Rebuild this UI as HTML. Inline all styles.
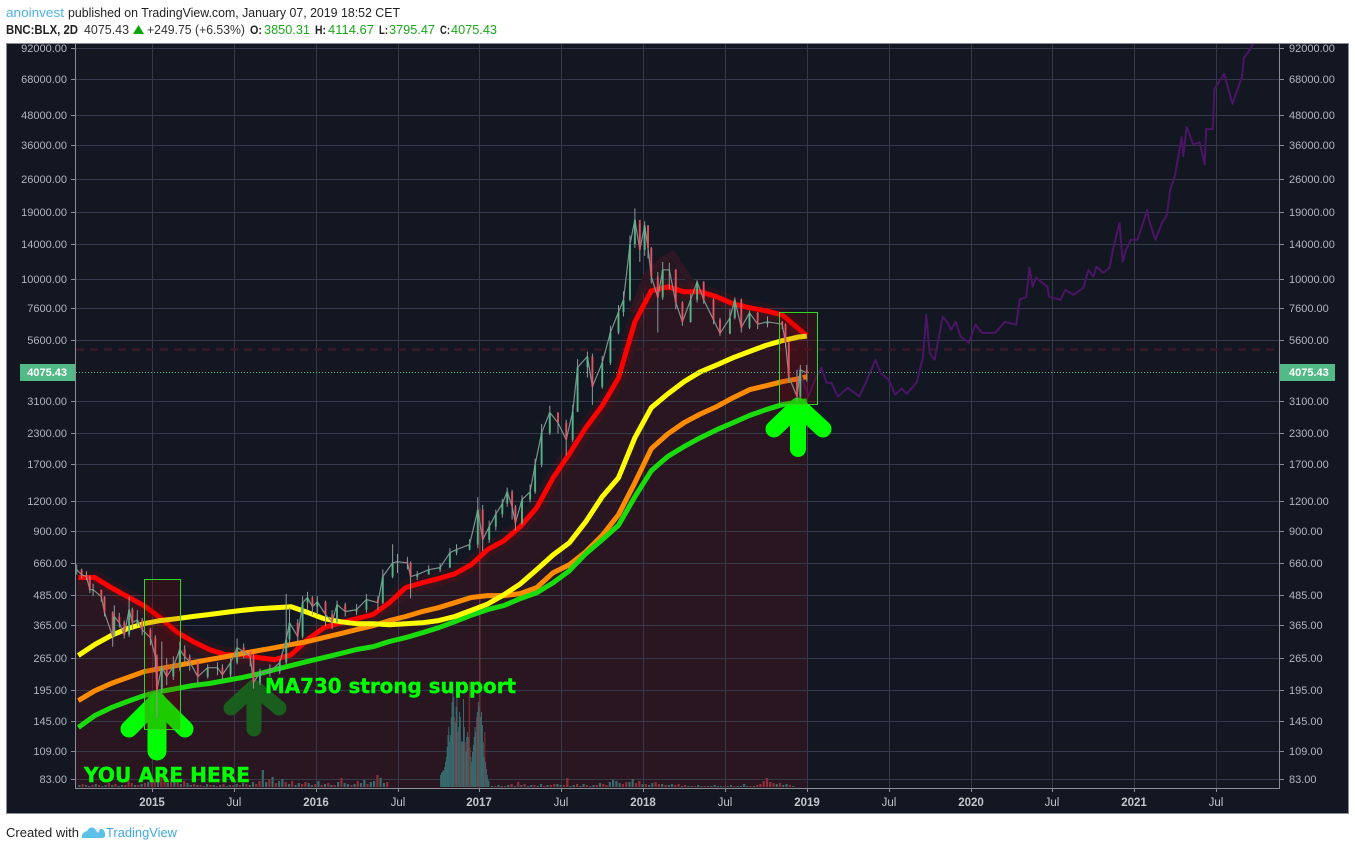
<!DOCTYPE html>
<html lang="en">
<head>
<meta charset="utf-8">
<title>BNC:BLX 2D chart</title>
<style>
html,body{margin:0;padding:0;background:#fff;width:1355px;height:850px;overflow:hidden}
svg{display:block;font-family:"Liberation Sans",Arial,sans-serif}
</style>
</head>
<body>
<svg id="chart" xmlns="http://www.w3.org/2000/svg" width="1355" height="850" viewBox="0 0 1355 850">
  <defs>
    <clipPath id="plot-clip"><rect x="76" y="44" width="1203" height="744"/></clipPath>
  </defs>
  <rect x="0" y="0" width="1355" height="850" fill="#ffffff"/>
  <rect x="6.5" y="43.5" width="1342" height="770" fill="#131722" stroke="#8a8d93" stroke-width="1"/>

  <g font-size="12.5">
    <text x="6" y="17" fill="#4cb1e6" textLength="58" lengthAdjust="spacingAndGlyphs">anoinvest</text>
    <text x="68" y="17" fill="#222" textLength="332" lengthAdjust="spacingAndGlyphs">published on TradingView.com, January 07, 2019 18:52 CET</text>
  </g>
  <g font-size="12.5">
    <text x="6" y="34" font-weight="bold" fill="#222" textLength="72" lengthAdjust="spacingAndGlyphs">BNC:BLX, 2D</text>
    <text x="84" y="34" fill="#333" textLength="45" lengthAdjust="spacingAndGlyphs">4075.43</text>
    <polygon points="133,34 144,34 138.5,25" fill="#0aa60a"/>
    <text x="147" y="34" fill="#333" textLength="98" lengthAdjust="spacingAndGlyphs">+249.75 (+6.53%)</text>
    <text x="250" y="34" font-weight="bold" fill="#222" font-size="12" textLength="12" lengthAdjust="spacingAndGlyphs">O:</text>
    <text x="264" y="34" fill="#1aa81a" textLength="46" lengthAdjust="spacingAndGlyphs">3850.31</text>
    <text x="315" y="34" font-weight="bold" fill="#222" font-size="12" textLength="11" lengthAdjust="spacingAndGlyphs">H:</text>
    <text x="328" y="34" fill="#1aa81a" textLength="46" lengthAdjust="spacingAndGlyphs">4114.67</text>
    <text x="379" y="34" font-weight="bold" fill="#222" font-size="12" textLength="9" lengthAdjust="spacingAndGlyphs">L:</text>
    <text x="389" y="34" fill="#1aa81a" textLength="46" lengthAdjust="spacingAndGlyphs">3795.47</text>
    <text x="440" y="34" font-weight="bold" fill="#222" font-size="12" textLength="10" lengthAdjust="spacingAndGlyphs">C:</text>
    <text x="451" y="34" fill="#1aa81a" textLength="46" lengthAdjust="spacingAndGlyphs">4075.43</text>
  </g>

  <g id="plot" clip-path="url(#plot-clip)">
    <g id="layer-fill"></g>
    <g id="layer-grid"></g>
    <g id="layer-volume"></g>
    <line x1="76" x2="1279" y1="349.5" y2="349.5" stroke="#3a1a26" stroke-width="2.5" stroke-dasharray="8 6"/>
    <g id="layer-ma"></g>
    <line x1="76" x2="1279" y1="372.5" y2="372.5" stroke="#53b987" stroke-width="1" stroke-dasharray="1 2"/>
    <g id="layer-forecast"></g>
    <g fill="none" stroke-linecap="round" stroke-linejoin="round">
      <g stroke="#00ff00">
        <path d="M129 729 L157 701 L185 729" stroke-width="17"/>
        <path d="M157 702 L157 751" stroke-width="19"/>
      </g>
      <g stroke="#1a5e1e">
        <path d="M231 708 L254 687 L279 708" stroke-width="15"/>
        <path d="M254 690 L254 729" stroke-width="15"/>
      </g>
      <g stroke="#00ff00">
        <path d="M774 429 L798 406 L823 429" stroke-width="17"/>
        <path d="M798 408 L798 449" stroke-width="16"/>
      </g>
    </g>
    <rect x="144.5" y="579.5" width="36" height="150" fill="rgba(139,0,0,0.2)" stroke="#2fd81f" stroke-width="1"/>
    <rect x="779.5" y="312.5" width="38" height="92" fill="rgba(139,0,0,0.2)" stroke="#2fd81f" stroke-width="1"/>
    <g id="layer-candles"></g>
  </g>

  <text x="84" y="782" fill="#00ff00" stroke="#00ff00" stroke-width="0.4" font-family="'DejaVu Sans',sans-serif" font-weight="bold" font-size="20" textLength="166" lengthAdjust="spacingAndGlyphs">YOU ARE HERE</text>
  <text x="265" y="693" fill="#00ff00" stroke="#00ff00" stroke-width="0.4" font-family="'DejaVu Sans',sans-serif" font-weight="bold" font-size="20" textLength="251" lengthAdjust="spacingAndGlyphs">MA730 strong support</text>

  <g id="layer-axes"></g>

  <line x1="75.5" x2="75.5" y1="44" y2="788" stroke="#8a8d93"/>
  <line x1="1279.5" x2="1279.5" y1="44" y2="788" stroke="#8a8d93"/>
  <line x1="75" x2="1280" y1="788.5" y2="788.5" stroke="#8a8d93"/>

  <rect x="20" y="364" width="55" height="17" fill="#53b987"/>
  <text x="67" y="376" text-anchor="end" fill="#ffffff" font-size="11" font-weight="bold">4075.43</text>
  <rect x="1280" y="364" width="55" height="17" fill="#53b987"/>
  <text x="1289" y="376" fill="#ffffff" font-size="11" font-weight="bold">4075.43</text>

  <text x="6" y="837" fill="#222" font-size="13">Created with</text>
  <path d="M82 838 Q81 833 87 831 Q91 825 95 829 L98 833 L100 829 Q104 828 105 833 Q106 838 102 838 Z" fill="#5cc0e8"/>
  <text x="106" y="837" fill="#3fa9dd" font-size="13" textLength="71" lengthAdjust="spacingAndGlyphs">TradingView</text>

  <script>
  // ---------- axis configuration ----------
  const priceTicks = [92000,68000,48000,36000,26000,19000,14000,10000,7600,5600,3100,2300,1700,1200,900,660,485,365,265,195,145,109,83];
  const timeTickYears = [2015,2015.5,2016,2016.5,2017,2017.5,2018,2018.5,2019,2019.5,2020,2020.5,2021,2021.5];
  const timeTickLabels = ['2015','Jul','2016','Jul','2017','Jul','2018','Jul','2019','Jul','2020','Jul','2021','Jul'];

  // ---------- moving averages ----------
  const maYears = [2014.55,2014.65,2014.75,2014.85,2014.95,2015.05,2015.15,2015.25,2015.35,2015.45,2015.55,2015.65,2015.75,2015.85,2015.95,2016.05,2016.15,2016.25,2016.35,2016.45,2016.55,2016.65,2016.75,2016.85,2016.95,2017.05,2017.15,2017.25,2017.35,2017.45,2017.55,2017.65,2017.75,2017.85,2017.95,2018.05,2018.15,2018.25,2018.35,2018.45,2018.55,2018.65,2018.75,2018.85,2018.95,2019.0];
  const ma100Red = [574,574,521,478,439,391,341,311,288,274,274,266.5,261.5,274,316.7,355,372,387,403,451,521,546,568,595,649,750,817,935,1121,1493,1880,2412,2975,3890,6650,8945,9300,8860,8860,8450,7900,7610,7385,7100,6220,5820];
  const ma200Yellow = [272,302,329,352,369,380,387,395,403,411,419,426,430,434,411,387,376,369,369,365,369,372,380,395,419,445,487,540,619,713,801,980,1245,1493,2191,2920,3330,3745,4118,4400,4715,5000,5303,5545,5750,5800];
  const ma365Orange = [176.5,194,208,220,233,240,247,254,261.5,269,277,285,293,302,311,323,335,348.5,362,380,395,414,430,451,474,483,483,492,521,601,649,735,859,1048,1423,1972,2270,2530,2750,2950,3213,3468,3600,3745,3855,3930];
  const ma730Green = [136.5,153,165,175,185,192.5,198,204,208,214,220,228,237.6,247,257,266.5,277,288,296,311,323,338,355,376,400,422,439,469,496,546,613,721,825,947,1245,1596,1830,2011,2191,2365,2530,2710,2864,3005,3090,3120];
  const redShadowYears = [2017.94,2018.02,2018.12,2018.18,2018.27,2018.33];
  const redShadowPrices = [7460,10250,12040,12700,10250,8850];

  // ---------- candles ----------
  const candleYears = [2014.54,2014.57,2014.60,2014.62,2014.64,2014.69,2014.71,2014.76,2014.77,2014.80,2014.83,2014.86,2014.88,2014.91,2014.94,2014.99,2015.02,2015.03,2015.06,2015.09,2015.13,2015.17,2015.20,2015.23,2015.28,2015.34,2015.40,2015.43,2015.48,2015.52,2015.56,2015.60,2015.62,2015.66,2015.72,2015.78,2015.82,2015.84,2015.89,2015.92,2015.95,2015.98,2016.01,2016.06,2016.10,2016.13,2016.18,2016.25,2016.31,2016.38,2016.41,2016.47,2016.50,2016.56,2016.58,2016.62,2016.69,2016.76,2016.82,2016.86,2016.94,2016.99,2017.02,2017.06,2017.10,2017.14,2017.17,2017.20,2017.22,2017.26,2017.31,2017.34,2017.38,2017.43,2017.48,2017.53,2017.57,2017.60,2017.66,2017.69,2017.75,2017.80,2017.85,2017.88,2017.92,2017.95,2017.98,2018.01,2018.03,2018.05,2018.09,2018.12,2018.16,2018.20,2018.24,2018.29,2018.33,2018.37,2018.43,2018.47,2018.53,2018.56,2018.60,2018.65,2018.70,2018.76,2018.85,2018.87,2018.89,2018.94,2018.96,2019.00];
  const candleCloses = [619,590,579,511,511,478,411,326,395,372,332,422,372,383,348,323,269,196,244,222,244,288,269,256,222,242,242,226,254,293,282,269,210,231,233,254,317,372,326,451,474,434,455,403,376,443,414,422,465,451,579,661,668,661,579,590,619,631,728,750,787,1099,825,934,1053,1165,1305,1132,968,1210,1305,1690,2295,2790,2530,2149,2810,4300,4770,3570,4490,6000,7300,8210,14000,17660,13250,16700,13500,10250,8400,10940,10940,8000,6640,8210,9750,8210,6780,5950,6900,8210,6290,7250,6500,6650,6500,5440,3930,3250,4200,4075];
  const candleHighs = [650,625,610,585,540,510,480,415,440,410,380,478,430,420,390,355,330,275,311,265,270,310,300,275,262,250,255,250,265,320,305,285,275,240,250,262,490,430,385,480,500,480,480,460,420,460,450,445,490,480,620,790,720,700,670,610,645,660,760,790,830,1240,1150,990,1100,1220,1360,1330,1150,1260,1400,1790,2500,2980,2800,2600,3000,4650,5000,4900,4800,6400,7800,8900,15200,19700,17000,17400,16800,13600,10700,11800,11700,11000,8100,8700,9900,9800,8300,6900,7500,8400,8300,7400,7300,7000,6700,6550,5500,4200,4400,4400];
  const candleLows = [590,570,560,495,480,455,395,296,340,355,320,325,350,360,330,300,240,150,190,205,215,235,255,235,205,218,225,215,220,250,265,245,198,205,222,228,250,300,310,320,420,400,400,360,350,370,395,400,410,420,445,570,600,620,470,560,595,605,630,710,745,760,740,800,900,1020,1130,1000,900,950,1180,1280,1650,2250,2280,1850,2100,2800,3900,3000,3500,4400,5900,7000,8100,13500,11800,12500,12200,9600,6000,8200,9100,7500,6400,6600,8000,7900,6500,5800,5900,6800,6000,6200,6200,6300,6200,5200,3700,3100,3200,3750];

  // ---------- projected path ----------
  const forecastYears = [2018.95,2019.01,2019.05,2019.09,2019.12,2019.15,2019.19,2019.25,2019.32,2019.36,2019.42,2019.45,2019.50,2019.54,2019.58,2019.61,2019.67,2019.71,2019.73,2019.75,2019.78,2019.80,2019.83,2019.86,2019.88,2019.91,2019.94,2019.99,2020.03,2020.07,2020.15,2020.21,2020.28,2020.30,2020.34,2020.36,2020.38,2020.40,2020.47,2020.48,2020.55,2020.58,2020.63,2020.69,2020.72,2020.75,2020.77,2020.81,2020.85,2020.87,2020.91,2020.93,2020.95,2020.98,2021.02,2021.06,2021.08,2021.09,2021.13,2021.17,2021.20,2021.22,2021.25,2021.29,2021.30,2021.32,2021.36,2021.40,2021.43,2021.44,2021.48,2021.49,2021.55,2021.60,2021.66,2021.67,2021.70,2021.73];
  const forecastPrices = [4250,3250,3817,4280,3710,3710,3250,3535,3250,3710,4620,4080,3817,3310,3505,3340,3710,4760,7110,4950,4620,5440,6980,6590,6160,6650,5760,5440,6460,5980,5980,6650,6460,8210,8450,11150,9300,10140,9300,8450,8210,9035,8610,9220,10940,10240,11260,10630,11150,13250,17150,11800,13250,14580,14580,17660,19430,17660,14580,17150,18540,23500,27200,39000,32500,43000,36400,37100,30000,42100,42100,61800,71500,53600,70000,83600,88600,96500];

  // ---------- volume (height units, negative = down bar) ----------
  const volumeBaseStart = 2014.55;
  const volumeBaseStep = 0.02;
  const volumeBase = [2,-3,2,1,-2,3,-2,1,2,-4,2,-3,1,2,-2,-14,-4,2,-2,3,-4,5,-6,-8,5,-10,-7,4,-9,6,-5,3,-6,4,2,-3,2,-2,1,3,-2,2,-1,2,-3,1,2,-2,3,-2,4,-3,2,5,-3,-6,17,5,-8,10,-4,6,8,-5,3,-6,2,4,-3,-5,4,2,-3,6,-2,3,-4,2,-2,5,-9,4,3,-2,3,-6,4,7,-3,5,6,-12,9,4,-5,0,0,0,0,0,0,0,0,0,0,0,0,0,0,0,0,0,1,-2,1,1,-3,1,-2,1,2,-1,1,-2,3,1,1,-1,2,1,-1,2,-3,1,-5,2,-3,1,2,-2,1,3,-1,2,-2,-3,3,2,-2,-9,1,2,-3,1,3,-2,1,2,-2,4,-3,-2,5,7,6,4,-3,-5,5,8,-4,-6,3,-3,2,4,-5,-3,3,-2,2,3,-2,-3,1,-2,1,1,-1,2,1,-1,1,1,2,1,1,-1,1,2,-1,1,1,3,1,-1,1,-2,-3,-6,-9,-5,-4,3,-4,2,3,-2,1];
  const volumeSpikeStart = 2016.76;
  const volumeSpikeStep = 0.005;
  const volumeSpike = [12,14,15,17,16,20,25,30,40,52,60,45,52,70,85,95,90,-70,65,80,90,-55,60,75,70,-45,46,45,88,60,-45,35,50,55,50,-105,-40,30,25,35,42,50,60,55,-70,75,85,80,-280,70,75,62,45,30,-55,25,18,12,8,6];

  // ---------- drawing ----------
  const NS = 'http://www.w3.org/2000/svg';
  const xOf = t => 152 + (t - 2015) * 163.7;
  const yOf = p => 47.5 + 104.4 * Math.log(92000 / p);
  const baseY = 788;
  const volY = v => 787 - Math.abs(v);

  function mk(tag, parentId, attrs) {
    const el = document.createElementNS(NS, tag);
    for (const k in attrs) el.setAttribute(k, attrs[k]);
    document.getElementById(parentId).appendChild(el);
    return el;
  }
  const pts = (years, prices) => years.map((t, i) => xOf(t).toFixed(1) + ',' + yOf(prices[i]).toFixed(1)).join(' ');

  // area fill below the red MA
  const fillTop = pts(maYears, ma100Red);
  const area = mk('polygon', 'layer-fill', {points: '76,' + yOf(ma100Red[0]).toFixed(1) + ' ' + fillTop + ' ' + xOf(2019).toFixed(1) + ',' + baseY + ' 76,' + baseY, fill: '#2a1620'});
  
  

  const shadowFill = mk('polygon', 'layer-fill', {points: pts(redShadowYears, redShadowPrices), fill: '#25161f'});
  
  

  // grid
  priceTicks.forEach(p => {
    const y = Math.round(yOf(p)) + 0.5;
    const g = mk('line', 'layer-grid', {x1: 76, x2: 1279, y1: y, y2: y, stroke: '#363c4e', 'stroke-width': 1, 'stroke-opacity': 0.95});
    
    
  });
  timeTickYears.forEach(t => {
    const x = Math.round(xOf(t)) + 0.5;
    const g = mk('line', 'layer-grid', {x1: x, x2: x, y1: 44, y2: 788, stroke: '#363c4e', 'stroke-width': 1, 'stroke-opacity': 0.95});
    
    
  });

  // volume
  const spikeEnd = volumeSpikeStart + volumeSpike.length * volumeSpikeStep;
  volumeBase.forEach((v, i) => {
    const t = volumeBaseStart + i * volumeBaseStep;
    if (t >= volumeSpikeStart && t < spikeEnd) return;
    const b = mk('rect', 'layer-volume', {x: xOf(t).toFixed(1), y: volY(v), width: 2.2, height: Math.abs(v), fill: v < 0 ? '#8c2f39' : '#366a6c'});
    
    
  });
  volumeSpike.forEach((v, i) => {
    const t = volumeSpikeStart + i * volumeSpikeStep;
    const b = mk('rect', 'layer-volume', {x: xOf(t).toFixed(1), y: volY(v), width: 1, height: Math.abs(v), fill: v < 0 ? '#8c2f39' : '#366a6c'});
    
    
  });

  // moving averages
  const shadowLine = mk('polyline', 'layer-ma', {points: pts(redShadowYears, redShadowPrices), fill: 'none', stroke: '#2c1722', 'stroke-width': 7, 'stroke-linejoin': 'round', 'stroke-linecap': 'round'});
  
  

  const glow = mk('polyline', 'layer-ma', {points: pts(maYears, ma100Red), fill: 'none', stroke: '#ff0000', 'stroke-opacity': 0.08, 'stroke-width': 15, 'stroke-linejoin': 'round'});
  
  

  const lineRed = mk('polyline', 'layer-ma', {points: pts(maYears, ma100Red), fill: 'none', stroke: '#ff0000', 'stroke-width': 5, 'stroke-linejoin': 'round'});
  
  

  const lineOrange = mk('polyline', 'layer-ma', {points: pts(maYears, ma365Orange), fill: 'none', stroke: '#ff8c00', 'stroke-width': 5, 'stroke-linejoin': 'round'});
  
  

  const lineGreen = mk('polyline', 'layer-ma', {points: pts(maYears, ma730Green), fill: 'none', stroke: '#18dc0c', 'stroke-width': 5, 'stroke-linejoin': 'round'});
  
  

  const lineYellow = mk('polyline', 'layer-ma', {points: pts(maYears, ma200Yellow), fill: 'none', stroke: '#ffff00', 'stroke-width': 5, 'stroke-linejoin': 'round'});
  
  

  // forecast
  const forecast = mk('polyline', 'layer-forecast', {points: pts(forecastYears, forecastPrices), fill: 'none', stroke: '#4a1565', 'stroke-width': 2, 'stroke-linejoin': 'round'});
  
  

  // candles
  const closeLine = mk('polyline', 'layer-candles', {points: pts(candleYears, candleCloses), fill: 'none', stroke: '#7e918d', 'stroke-width': 1.2, 'stroke-linejoin': 'round'});
  
  

  candleYears.forEach((t, i) => {
    const open = i ? candleCloses[i - 1] : candleCloses[0];
    const close = candleCloses[i];
    const up = close >= open;
    const col = up ? '#53b987' : '#eb4d5c';
    const x = xOf(t);
    const wick = mk('line', 'layer-candles', {x1: x.toFixed(1), x2: x.toFixed(1), y1: yOf(candleHighs[i]).toFixed(1), y2: yOf(candleLows[i]).toFixed(1), stroke: '#8d9a98', 'stroke-width': 1});
    
    
    const top = Math.min(yOf(open), yOf(close));
    const h = Math.max(1, Math.abs(yOf(open) - yOf(close)));
    const body = mk('rect', 'layer-candles', {x: (x - 1).toFixed(1), y: top.toFixed(1), width: 2, height: h.toFixed(1), fill: col, 'fill-opacity': 0.85});
    
    
  });

  // axis labels and ticks
  priceTicks.forEach(p => {
    const y = Math.round(yOf(p));
    const tl = mk('line', 'layer-axes', {x1: 71, x2: 75, y1: y + 0.5, y2: y + 0.5, stroke: '#8a8d93'});
    
    
    const tr = mk('line', 'layer-axes', {x1: 1280, x2: 1284, y1: y + 0.5, y2: y + 0.5, stroke: '#8a8d93'});
    
    
    const ll = mk('text', 'layer-axes', {x: 67, y: y + 4, 'text-anchor': 'end', fill: '#b2b5be', 'font-size': 11});
    ll.textContent = p.toFixed(2);
    
    
    const lr = mk('text', 'layer-axes', {x: 1289, y: y + 4, fill: '#b2b5be', 'font-size': 11});
    lr.textContent = p.toFixed(2);
    
    
  });
  timeTickYears.forEach((t, i) => {
    const x = Math.round(xOf(t));
    const tk = mk('line', 'layer-axes', {x1: x + 0.5, x2: x + 0.5, y1: 788, y2: 792, stroke: '#8a8d93'});
    
    
    const lb = mk('text', 'layer-axes', {x: x, y: 806, 'text-anchor': 'middle', fill: '#c4c6cc', 'font-size': 11.5, 'font-weight': timeTickLabels[i] === 'Jul' ? 'normal' : 'bold'});
    lb.textContent = timeTickLabels[i];
    
    
  });
  </script>
</svg>
</body>
</html>
